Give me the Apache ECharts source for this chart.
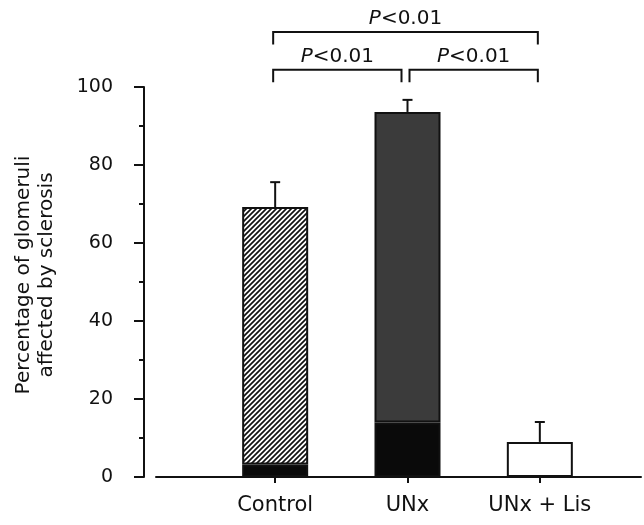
<!DOCTYPE html>
<html><head><meta charset="utf-8">
<script src="https://cdn.jsdelivr.net/npm/echarts@6/dist/echarts.min.js"></script>
<style>html,body{margin:0;padding:0;background:#fff}#c{width:644px;height:525px}</style>
</head><body><div id="c"></div>
<script>
// ---- data ----
const categories = ['Control', 'UNx', 'UNx + Lis'];
const totalPct = [69.2, 93.6, 9.0];     // bar height (% glomeruli affected)
const basePct = [3.2, 14.0, 0];         // black (severe) lower portion
const errPct = [6.4, 3.1, 5.1];         // SEM (upper whisker)
const yTickLabels = [0, 20, 40, 60, 80, 100];
const bracketFrom = [0, 0, 1];
const bracketTo = [2, 1, 2];
const bracketLabel = ['P<0.01', 'P<0.01', 'P<0.01'];
const bracketLevel = [114.1, 104.4, 104.4]; // y level (data units) of bracket bar

const FONT = 'DejaVu Sans';
const INK = '#111';

function hatch() {
  const s = 5;
  const c = document.createElement('canvas');
  c.width = s; c.height = s;
  const g = c.getContext('2d');
  g.fillStyle = '#fff'; g.fillRect(0, 0, s, s);
  g.strokeStyle = '#111'; g.lineWidth = 1.7; g.beginPath();
  g.moveTo(-1, s + 1); g.lineTo(s + 1, -1);
  g.moveTo(-1, 1); g.lineTo(1, -1);
  g.moveTo(s - 1, s + 1); g.lineTo(s + 1, s - 1);
  g.stroke();
  return c;
}
const upperFills = [{ image: hatch(), repeat: 'repeat' }, '#3b3b3b', '#ffffff'];

const chart = echarts.init(document.getElementById('c'), null, { renderer: 'canvas' });

const upperData = totalPct.map((t, i) => ({
  value: t - basePct[i],
  itemStyle: { color: upperFills[i] }
}));

chart.setOption({
  backgroundColor: '#fff',
  animation: false,
  grid: [
    { left: 209, right: 38, top: 87, bottom: 48, containLabel: false, outerBoundsMode: 'none' },
    { left: 156, right: 3, top: 87, bottom: 48, containLabel: false, outerBoundsMode: 'none' }
  ],
  xAxis: [
    {
      gridIndex: 0, type: 'category', data: categories,
      axisLine: { show: false },
      axisTick: { show: true, alignWithLabel: true, length: 6, lineStyle: { color: INK, width: 2 } },
      axisLabel: { color: INK, fontSize: 21, fontFamily: FONT, margin: 18, interval: 0 }
    },
    {
      gridIndex: 1, type: 'value', min: 0, max: 1,
      axisLine: { show: true, onZero: false, lineStyle: { color: INK, width: 2 } },
      axisTick: { show: false }, axisLabel: { show: false }, splitLine: { show: false }
    }
  ],
  yAxis: [
    {
      gridIndex: 0, type: 'value', min: yTickLabels[0], max: yTickLabels[yTickLabels.length - 1], interval: 20,
      offset: 65,
      name: 'Percentage of glomeruli\naffected by sclerosis',
      nameLocation: 'middle', nameRotate: 90, nameGap: 86,
      nameTextStyle: { color: INK, fontSize: 20, fontFamily: FONT, lineHeight: 23, padding: [0, 0, 0, 14] },
      axisLine: { show: true, lineStyle: { color: INK, width: 2 } },
      axisTick: { show: true, length: 10, lineStyle: { color: INK, width: 2 } },
      minorTick: { show: true, splitNumber: 2, length: 5, lineStyle: { color: INK, width: 2 } },
      axisLabel: { color: INK, fontSize: 19, fontFamily: FONT, margin: 31 },
      splitLine: { show: false }
    },
    { gridIndex: 1, type: 'value', min: 0, max: 1, show: false }
  ],
  series: [
    {
      type: 'bar', stack: 'a', xAxisIndex: 0, yAxisIndex: 0, barWidth: 66,
      data: basePct,
      itemStyle: { color: '#0a0a0a', borderColor: INK, borderWidth: 2 }
    },
    {
      type: 'bar', stack: 'a', xAxisIndex: 0, yAxisIndex: 0, barWidth: 66,
      data: upperData,
      itemStyle: { borderColor: INK, borderWidth: 2 }
    },
    {
      type: 'custom', xAxisIndex: 0, yAxisIndex: 0, z: 5,
      data: totalPct.map((t, i) => [i, t, errPct[i]]),
      renderItem: function (params, api) {
        const x = api.value(0), t = api.value(1), e = api.value(2);
        const p0 = api.coord([x, t]);
        const p1 = api.coord([x, t + e]);
        const st = { stroke: INK, lineWidth: 2 };
        return {
          type: 'group', children: [
            { type: 'line', shape: { x1: p0[0], y1: p0[1], x2: p1[0], y2: p1[1] }, style: st },
            { type: 'line', shape: { x1: p1[0] - 5, y1: p1[1], x2: p1[0] + 5, y2: p1[1] }, style: st }
          ]
        };
      }
    }
  ]
});

// significance brackets placed through the chart's own scales
const graphics = [];
bracketFrom.forEach((f, k) => {
  const t = bracketTo[k];
  const lvl = bracketLevel[k];
  const a = chart.convertToPixel({ gridIndex: 0 }, [f, lvl]);
  const b = chart.convertToPixel({ gridIndex: 0 }, [t, lvl]);
  const legEnd = chart.convertToPixel({ gridIndex: 0 }, [f, lvl - 3.2])[1];
  const txtY = chart.convertToPixel({ gridIndex: 0 }, [f, lvl + 3.4])[1];
  let x1 = a[0] - 2, x2 = b[0] - 2;
  if (k === 1) x2 = b[0] - 6;
  if (k === 2) x1 = a[0] + 2;
  const lbl = bracketLabel[k];
  graphics.push({
    type: 'polyline',
    shape: { points: [[x1, legEnd], [x1, a[1]], [x2, a[1]], [x2, legEnd]] },
    style: { stroke: INK, lineWidth: 2, fill: null }
  });
  graphics.push({
    type: 'text', x: (x1 + x2) / 2, y: txtY,
    style: {
      text: '{i|' + lbl.charAt(0) + '}' + lbl.slice(1), fill: INK, fontSize: 20, fontFamily: FONT,
      align: 'center', verticalAlign: 'middle',
      rich: { i: { fontStyle: 'italic', fontSize: 20, fontFamily: FONT, fill: INK } }
    }
  });
});
chart.setOption({ graphic: graphics });
</script>
</body></html>
